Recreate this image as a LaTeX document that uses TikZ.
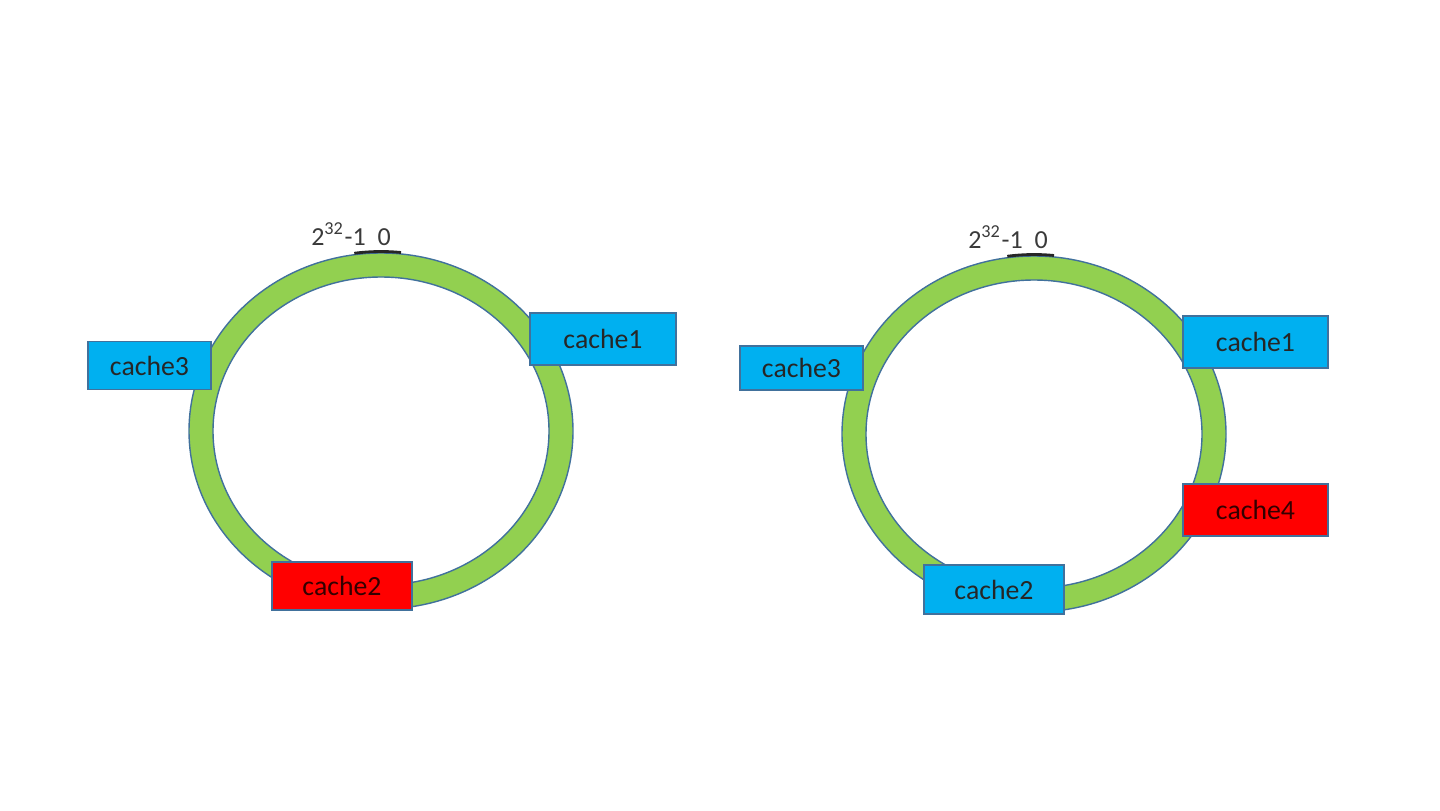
\documentclass[tikz,border=0pt]{standalone}
\usepackage{fontspec}
\setmainfont{Carlito}
\usepackage{tikz}
\usetikzlibrary{positioning,calc}
\definecolor{ringgreen}{HTML}{92D050}
\definecolor{ringedge}{HTML}{41719C}
\definecolor{nodeblue}{HTML}{00B0F0}
\definecolor{nodered}{HTML}{FF0000}
\definecolor{labelgray}{HTML}{3A3A3A}

\begin{document}
\begin{tikzpicture}[
  font=\fontsize{7.9}{9}\selectfont,
  ring/.style={fill=ringgreen,even odd rule,draw=ringedge,line width=0.4pt},
  cachebox/.style={draw=ringedge,line width=0.4pt,inner sep=0pt,
                   minimum height=4.8mm,text=black!85},
  live/.style={cachebox,fill=nodeblue},
  hit/.style={cachebox,fill=nodered,text=black!80!red},
  zero/.style={text=labelgray,font=\fontsize{7.4}{9}\selectfont},
  tick/.style={line width=0.8pt,draw=black!85},
]
\useasboundingbox (0,0) rectangle (14.4,8.1);

% left ring: before cache4 joins
\coordinate (lc) at (3.81,3.79);
\path[ring] (lc) ellipse (1.92 and 1.78) (lc) ellipse (1.68 and 1.54);
\draw[tick] ($(lc)+(84:1.92 and 1.795)$) arc (84:98:1.92 and 1.795);
\node[zero] (ltop) at (3.51,5.76) {2\textsuperscript{32}-1~~0};

\node[live,minimum width=12.3mm] (lcache3) at (1.495,4.445) {cache3};
\node[live,minimum width=14.6mm,minimum height=5.2mm] (lcache1) at (6.03,4.71) {cache1};
\node[hit,minimum width=14.0mm] (lcache2) at (3.42,2.24) {cache2};

% right ring: cache4 added
\coordinate (rc) at (10.34,3.76);
\path[ring] (rc) ellipse (1.92 and 1.78) (rc) ellipse (1.68 and 1.54);
\draw[tick] ($(rc)+(84:1.92 and 1.795)$) arc (84:98:1.92 and 1.795);
\node[zero] (rtop) at (10.08,5.73) {2\textsuperscript{32}-1~~0};

\node[live,minimum width=12.3mm,minimum height=4.4mm] (rcache3) at (8.015,4.42) {cache3};
\node[live,minimum width=14.5mm,minimum height=5.2mm] (rcache1) at (12.555,4.68) {cache1};
\node[hit,minimum width=14.5mm,minimum height=5.2mm] (rcache4) at (12.555,3.00) {cache4};
\node[live,minimum width=14.0mm,minimum height=4.9mm] (rcache2) at (9.94,2.205) {cache2};

\end{tikzpicture}
\end{document}
